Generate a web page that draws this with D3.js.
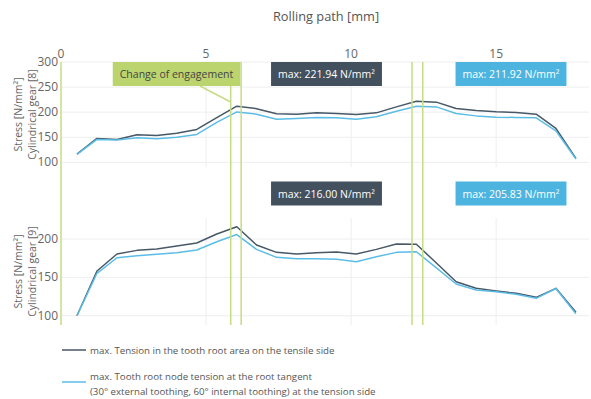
<!DOCTYPE html>
<html lang="en">
<head>
<meta charset="UTF-8">
<title>Rolling path stress</title>
<script src="https://d3js.org/d3.v7.min.js"></script>
<style>
  body { margin: 0; background: #fff; }
  svg { display: block; font-family: "Open Sans", sans-serif; }
  .tick-lbl { font-size: 12px; fill: #666; }
  .ax-title { font-size: 10.5px; fill: #666; }
  .legend { font-size: 9.7px; fill: #555; }
</style>
</head>
<body>
<svg id="chart" width="591" height="399"></svg>
<script>
// rolling path positions [mm]
const rollPath = [0.55, 1.24, 1.93, 2.62, 3.30, 3.99, 4.68, 5.37, 6.06, 6.74, 7.43, 8.12, 8.81,
  9.50, 10.18, 10.87, 11.56, 12.25, 12.94, 13.62, 14.31, 15.00, 15.69, 16.38, 17.06, 17.75];

// gear 8
const gear8Tension = [116.5, 147.7, 145.7, 155, 153.7, 158, 165.5, 189, 212, 207, 197, 196, 198.6,
  197.3, 195.4, 198.6, 210.5, 221.94, 220, 207.3, 203.3, 200.6, 199.3, 196, 167.5, 108];
const gear8Node = [116, 145.7, 144.3, 149, 147, 150, 155.6, 179.5, 200.5, 196, 186, 187.4, 189.4,
  188.7, 186, 190.7, 202, 211.92, 210.5, 197.4, 192.6, 190, 189.4, 188.7, 162.8, 106.6];

// gear 9
const gear9Tension = [100, 158.3, 180.4, 185.2, 187, 190.9, 194.8, 206.5, 216.0, 192.2, 182.6, 180.4,
  182.2, 183, 180.4, 186.5, 193.5, 193.1, 168.7, 144.3, 135.7, 132.2, 129.2, 124, 135.7, 104.4];
const gear9Node = [100, 155.3, 175.6, 178.2, 180, 182.2, 185.7, 196.5, 205.83, 186.5, 176.1, 174.3,
  174.3, 173.5, 170.4, 176.9, 182.6, 183.4, 162.3, 141.3, 133.5, 131.3, 127.9, 122.7, 135.5, 102.6];

const xTicks = [0, 5, 10, 15];
const topYTicks = [100, 150, 200, 250, 300];
const botYTicks = [100, 150, 200];
const engagement = [5.85, 6.21, 12.1, 12.47];

const darkCol = "#475867";
const blueCol = "#5bbde6";
const greenCol = "#c6dc84";

const svg = d3.select("#chart");

const x = d3.scaleLinear().domain([0, 18.2]).range([61, 589]);
const yTop = d3.scaleLinear().domain([90.7, 300]).range([167, 62]);
const yBot = d3.scaleLinear().domain([87.9, 227.4]).range([325, 218]);

// title
svg.append("text").attr("x", 326).attr("y", 21).attr("text-anchor", "middle")
  .style("font-size", "12.8px").style("fill", "#555").text("Rolling path [mm]");

// x tick labels at top
svg.selectAll("text.xt").data(xTicks).enter().append("text")
  .attr("class", "tick-lbl")
  .attr("x", d => x(d)).attr("y", 58).attr("text-anchor", "middle").text(d => d);

function panel(y, ticks, series, label) {
  const [y0, y1] = y.range();
  const g = svg.append("g");
  // vertical grid
  g.selectAll("line.vg").data(xTicks.filter(d => d > 0)).enter().append("line")
    .attr("x1", d => x(d)).attr("x2", d => x(d)).attr("y1", y1).attr("y2", y0)
    .attr("stroke", "#eee").attr("stroke-width", 1);
  // horizontal grid
  g.selectAll("line.hg").data(ticks).enter().append("line")
    .attr("x1", x(0)).attr("x2", x.range()[1]).attr("y1", d => y(d)).attr("y2", d => y(d))
    .attr("stroke", "#eee").attr("stroke-width", 1);
  g.selectAll("text.yt").data(ticks).enter().append("text")
    .attr("class", "tick-lbl").attr("x", 58).attr("y", d => y(d) + 4)
    .attr("text-anchor", "end").text(d => d);
  // y axis title, two lines
  const cy = (y0 + y1) / 2;
  const t = g.append("text").attr("class", "ax-title")
    .attr("transform", `translate(22,${cy}) rotate(-90)`).attr("text-anchor", "middle");
  t.append("tspan").attr("x", 0).attr("dy", 0).text("Stress [N/mm²]");
  t.append("tspan").attr("x", 0).attr("dy", 14).text(label);
  const line = d3.line().x((d, i) => x(rollPath[i])).y(d => y(d));
  series.forEach(s => {
    g.append("path").datum(s.values).attr("d", line)
      .attr("fill", "none").attr("stroke", s.color).attr("stroke-width", 1.5)
      .attr("stroke-linejoin", "round");
  });
}

panel(yTop, topYTicks, [
  { values: gear8Tension, color: darkCol },
  { values: gear8Node, color: blueCol }
], "Cylindrical gear [8]");

panel(yBot, botYTicks, [
  { values: gear9Tension, color: darkCol },
  { values: gear9Node, color: blueCol }
], "Cylindrical gear [9]");

// left axis line and engagement lines
svg.append("line").attr("x1", x(0)).attr("x2", x(0)).attr("y1", 62).attr("y2", 325)
  .attr("stroke", greenCol).attr("stroke-width", 1.5);
svg.selectAll("line.eng").data(engagement).enter().append("line")
  .attr("x1", d => x(d)).attr("x2", d => x(d)).attr("y1", 62).attr("y2", 325)
  .attr("stroke", greenCol).attr("stroke-width", 1.5);

// annotations
function box(cx, top, txt, fill, color) {
  const g = svg.append("g");
  const r = g.append("rect");
  const t = g.append("text").attr("x", cx).attr("y", top + 16)
    .attr("text-anchor", "middle").style("font-size", "10.5px").style("fill", color).text(txt);
  const w = t.node().getComputedTextLength() + 14;
  r.attr("x", cx - w / 2).attr("y", top).attr("width", w).attr("height", 24).attr("fill", fill);
}

svg.append("line").attr("x1", 200).attr("y1", 86).attr("x2", x(5.85)).attr("y2", 102)
  .attr("stroke", greenCol).attr("stroke-width", 1.5);
box(176.5, 62, "Change of engagement", "#bcd46e", "#444");
box(326.5, 62, "max: 221.94 N/mm²", "#43505e", "#fff");
box(511, 62, "max: 211.92 N/mm²", "#4db4e0", "#fff");
box(326.5, 181.5, "max: 216.00 N/mm²", "#43505e", "#fff");
box(511, 181.5, "max: 205.83 N/mm²", "#4db4e0", "#fff");

// legend
const legend = svg.append("g").attr("class", "legend");
legend.append("line").attr("x1", 62).attr("x2", 86).attr("y1", 350).attr("y2", 350)
  .attr("stroke", darkCol).attr("stroke-width", 1.5);
legend.append("text").attr("x", 90).attr("y", 353.5)
  .text("max. Tension in the tooth root area on the tensile side");
legend.append("line").attr("x1", 62).attr("x2", 86).attr("y1", 382).attr("y2", 382)
  .attr("stroke", blueCol).attr("stroke-width", 1.5);
legend.append("text").attr("x", 90).attr("y", 379.5)
  .text("max. Tooth root node tension at the root tangent");
legend.append("text").attr("x", 90).attr("y", 394.5)
  .text("(30° external toothing, 60° internal toothing) at the tension side");
</script>
</body>
</html>
